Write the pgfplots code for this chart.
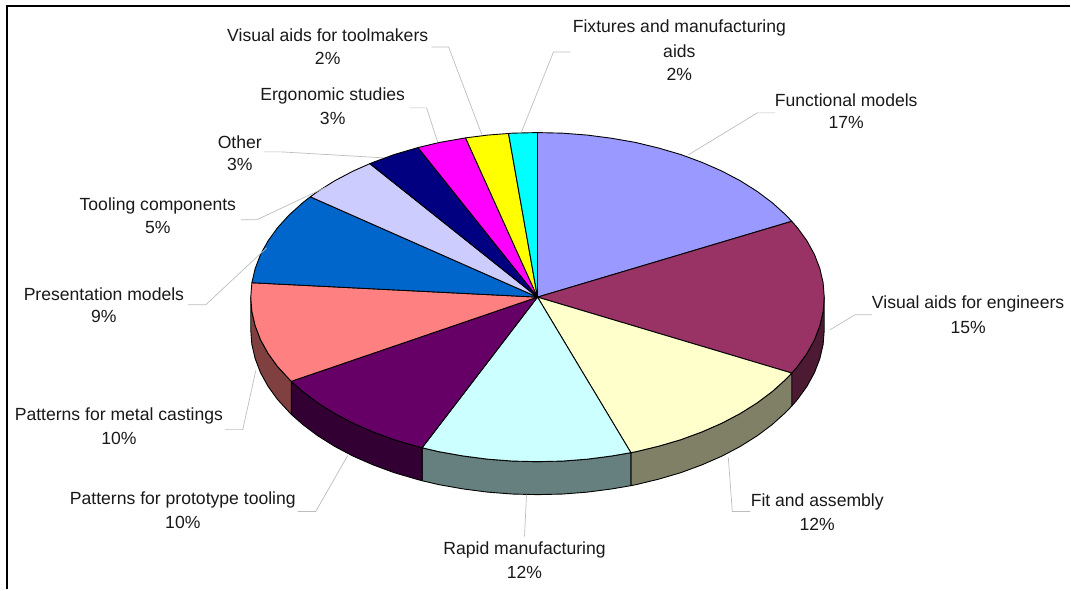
\documentclass[border=0pt]{standalone}
\usepackage{pgfplots}
\pgfplotsset{compat=1.18}
\usepackage{fontspec}
\setmainfont{Liberation Sans}
\definecolor{c1}{HTML}{9999FF}
\definecolor{c2}{HTML}{993366}
\definecolor{c3}{HTML}{FFFFCC}
\definecolor{c4}{HTML}{CCFFFF}
\definecolor{c5}{HTML}{660066}
\definecolor{c6}{HTML}{FF8080}
\definecolor{c7}{HTML}{0066CC}
\definecolor{c8}{HTML}{CCCCFF}
\definecolor{c9}{HTML}{000080}
\definecolor{c10}{HTML}{FF00FF}
\definecolor{c11}{HTML}{FFFF00}
\definecolor{c12}{HTML}{00FFFF}
\definecolor{w2}{HTML}{4D1A33}
\definecolor{w3}{HTML}{808066}
\definecolor{w4}{HTML}{668080}
\definecolor{w5}{HTML}{330033}
\definecolor{w6}{HTML}{804040}
\definecolor{lead}{HTML}{BDBDBD}
\tikzset{
  slice/.style={draw=black, line width=0.9pt, line join=round, mark=none},
  leader/.style={draw=lead, line width=0.7pt, mark=none},
  frame/.style={draw=black, line width=2pt, mark=none},
  lab/.style={font=\fontsize{17.6}{20}\selectfont, text=black!90, inner sep=0pt, anchor=center},
}
\begin{document}
\begin{tikzpicture}
\begin{axis}[
  scale only axis, width=1071pt, height=590pt,
  xmin=0, xmax=1071, ymin=0, ymax=590, y dir=reverse,
  hide axis, clip=false,
]
\path (axis cs:0,0) (axis cs:1071,590);
% frame
\addplot[frame] coordinates {(7.5,590) (7.5,6) (1071,6)};
% walls
\addplot[slice, fill=w2] coordinates {(825,297.4)(823.9,311.8)(820.6,326)(815.2,340.1)(807.7,353.7)(798.1,367)(792.5,373.4)(792.5,406.4)(798.1,400)(807.7,386.7)(815.2,373.1)(820.6,359)(823.9,344.8)(825,330.4)} --cycle;
\addplot[slice, fill=w3] coordinates {(792.5,373.4)(786.5,379.7)(773.1,391.8)(757.9,403.2)(740.9,413.9)(722.5,423.6)(702.6,432.3)(681.5,440.1)(659.3,446.6)(636.2,452.2)(631.5,453.1)(631.5,486.1)(636.2,485.2)(659.3,479.6)(681.5,473.1)(702.6,465.3)(722.5,456.6)(740.9,446.9)(757.9,436.2)(773.1,424.8)(786.5,412.7)(792.5,406.4)} --cycle;
\addplot[slice, fill=w4] coordinates {(631.5,453.1)(612.3,456.4)(587.8,459.6)(563,461.5)(538,462.1)(513,461.5)(488.2,459.6)(463.7,456.4)(439.8,452.2)(422.5,448.2)(422.5,481.2)(439.8,485.2)(463.7,489.4)(488.2,492.6)(513,494.5)(538,495.1)(563,494.5)(587.8,492.6)(612.3,489.4)(631.5,486.1)} --cycle;
\addplot[slice, fill=w5] coordinates {(422.5,448.2)(416.7,446.6)(394.5,440.1)(373.4,432.3)(353.5,423.6)(335.1,413.9)(318.1,403.2)(302.9,391.8)(291.5,381.7)(291.5,414.7)(302.9,424.8)(318.1,436.2)(335.1,446.9)(353.5,456.6)(373.4,465.3)(394.5,473.1)(416.7,479.6)(422.5,481.2)} --cycle;
\addplot[slice, fill=w6] coordinates {(291.5,381.7)(277.9,367)(268.3,353.7)(260.8,340.1)(255.4,326)(252.1,311.8)(251,297.4)(251,330.4)(252.1,344.8)(255.4,359)(260.8,373.1)(268.3,386.7)(277.9,400)(291.5,414.7)} --cycle;
% top slices
\addplot[slice, fill=c1] coordinates {(538,297.4)(538,132.7)(563,133.3)(587.8,135.2)(612.3,138.4)(636.2,142.6)(659.3,148.2)(681.5,154.7)(702.6,162.5)(722.5,171.2)(740.9,180.9)(757.9,191.6)(773.1,203)(786.5,215.1)(792.5,221.5)} --cycle;
\addplot[slice, fill=c2] coordinates {(538,297.4)(792.5,221.5)(798.1,227.8)(807.7,241.1)(815.2,254.7)(820.6,268.8)(823.9,283)(825,297.4)(823.9,311.8)(820.6,326)(815.2,340.1)(807.7,353.7)(798.1,367)(792.5,373.4)} --cycle;
\addplot[slice, fill=c3] coordinates {(538,297.4)(792.5,373.4)(786.5,379.7)(773.1,391.8)(757.9,403.2)(740.9,413.9)(722.5,423.6)(702.6,432.3)(681.5,440.1)(659.3,446.6)(636.2,452.2)(631.5,453.1)} --cycle;
\addplot[slice, fill=c4] coordinates {(538,297.4)(631.5,453.1)(612.3,456.4)(587.8,459.6)(563,461.5)(538,462.1)(513,461.5)(488.2,459.6)(463.7,456.4)(439.8,452.2)(422.5,448.2)} --cycle;
\addplot[slice, fill=c5] coordinates {(538,297.4)(422.5,448.2)(416.7,446.6)(394.5,440.1)(373.4,432.3)(353.5,423.6)(335.1,413.9)(318.1,403.2)(302.9,391.8)(291.5,381.7)} --cycle;
\addplot[slice, fill=c6] coordinates {(538,297.4)(291.5,381.7)(277.9,367)(268.3,353.7)(260.8,340.1)(255.4,326)(252.1,311.8)(251,297.4)(252.1,283)} --cycle;
\addplot[slice, fill=c7] coordinates {(538,297.4)(252.1,283)(255.4,268.8)(260.8,254.7)(268.3,241.1)(277.9,227.8)(289.5,215.1)(302.9,203)(310.6,197)} --cycle;
\addplot[slice, fill=c8] coordinates {(538,297.4)(310.6,197)(318.1,191.6)(335.1,180.9)(353.5,171.2)(370.2,163.8)} --cycle;
\addplot[slice, fill=c9] coordinates {(538,297.4)(370.2,163.8)(373.4,162.5)(394.5,154.7)(416.7,148.2)(418.4,147.7)} --cycle;
\addplot[slice, fill=c10] coordinates {(538,297.4)(418.4,147.7)(439.8,142.6)(463.7,138.4)(466,138)} --cycle;
\addplot[slice, fill=c11] coordinates {(538,297.4)(466,138)(488.2,135.2)(509,133.6)} --cycle;
\addplot[slice, fill=c12] coordinates {(538,297.4)(509,133.6)(513,133.3)(538,132.7)} --cycle;
% leader lines
\addplot[leader] coordinates {(689,155)(758,113)(776,113)};
\addplot[leader] coordinates {(522,132)(554,52)(571,52)};
\addplot[leader] coordinates {(482,134)(449,47)(432,47)};
\addplot[leader] coordinates {(438,142)(427,108)(410,108)};
\addplot[leader] coordinates {(384,158)(281,152)(264,152)};
\addplot[leader] coordinates {(327,187)(257,220)(241,220)};
\addplot[leader] coordinates {(267,248)(206,305)(188,305)};
\addplot[leader] coordinates {(256,371)(243,430)(225,430)};
\addplot[leader] coordinates {(348,456)(316,512)(298,512)};
\addplot[leader] coordinates {(527,495)(525,537)};
\addplot[leader] coordinates {(729,458)(733,512)(751,512)};
\addplot[leader] coordinates {(831,330)(856,315)(873,315)};
% labels
\node[lab] at (axis cs:328,35) {Visual aids for toolmakers};
\node[lab] at (axis cs:328,58) {2\%};
\node[lab] at (axis cs:333,96) {Ergonomic studies};
\node[lab] at (axis cs:333,119) {3\%};
\node[lab] at (axis cs:240,142) {Other};
\node[lab] at (axis cs:240,165) {3\%};
\node[lab] at (axis cs:158,206) {Tooling components};
\node[lab] at (axis cs:158,228) {5\%};
\node[lab] at (axis cs:104,294) {Presentation models};
\node[lab] at (axis cs:104,317) {9\%};
\node[lab] at (axis cs:119,416) {Patterns for metal castings};
\node[lab] at (axis cs:119,439) {10\%};
\node[lab] at (axis cs:183,500) {Patterns for prototype tooling};
\node[lab] at (axis cs:183,523) {10\%};
\node[lab] at (axis cs:525,550) {Rapid manufacturing};
\node[lab] at (axis cs:525,573) {12\%};
\node[lab] at (axis cs:818,502) {Fit and assembly};
\node[lab] at (axis cs:818,525) {12\%};
\node[lab] at (axis cs:969,304) {Visual aids for engineers};
\node[lab] at (axis cs:969,328) {15\%};
\node[lab] at (axis cs:847,100) {Functional models};
\node[lab] at (axis cs:847,123) {17\%};
\node[lab] at (axis cs:680,28) {Fixtures and manufacturing};
\node[lab] at (axis cs:680,51) {aids};
\node[lab] at (axis cs:680,74) {2\%};
\end{axis}
\end{tikzpicture}
\end{document}
